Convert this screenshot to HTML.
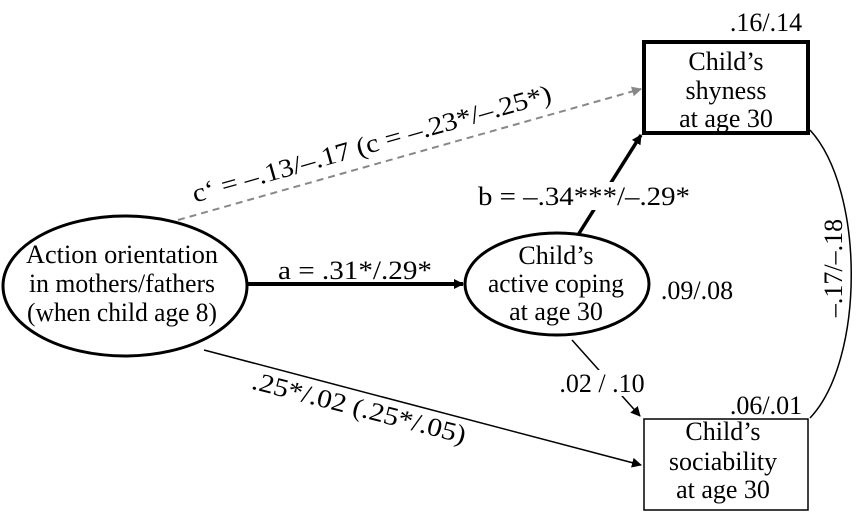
<!DOCTYPE html>
<html><head><style>
body{margin:0;background:#fff}
svg text{font-family:"Liberation Serif",serif;font-size:26px;fill:#000}
</style></head><body>
<svg width="858" height="518" viewBox="0 0 858 518">
<defs>
<marker id="ah" markerWidth="10" markerHeight="10" refX="9" refY="5" orient="auto" markerUnits="userSpaceOnUse"><path d="M0,0 L10,5 L0,10 z" fill="#000"/></marker>
<marker id="ag" markerWidth="10" markerHeight="10" refX="9" refY="5" orient="auto" markerUnits="userSpaceOnUse"><path d="M0,0 L10,5 L0,10 z" fill="#888"/></marker>
</defs>
<line x1="178" y1="220" x2="641" y2="89" stroke="#888" stroke-width="2" stroke-dasharray="7,5" marker-end="url(#ag)"/>
<line x1="247" y1="284" x2="463" y2="284" stroke="#000" stroke-width="4" marker-end="url(#ah)"/>
<line x1="578" y1="235" x2="641" y2="135" stroke="#000" stroke-width="3.5" marker-end="url(#ah)"/>
<line x1="572" y1="340" x2="640" y2="416" stroke="#000" stroke-width="1.5" marker-end="url(#ah)"/>
<line x1="204" y1="350" x2="641" y2="465" stroke="#000" stroke-width="1.5" marker-end="url(#ah)"/>
<path d="M810,130 C865,190 865,360 810,418" fill="none" stroke="#000" stroke-width="1.5"/>
<ellipse cx="125" cy="286" rx="122" ry="70" fill="#fff" stroke="#000" stroke-width="3"/>
<ellipse cx="557" cy="284" rx="92" ry="51" fill="#fff" stroke="#000" stroke-width="3"/>
<rect x="644" y="42" width="164" height="91" fill="#fff" stroke="#000" stroke-width="4"/>
<rect x="644" y="419" width="164" height="91" fill="#fff" stroke="#000" stroke-width="1.5"/>
<g text-anchor="middle">
<text x="122" y="263" textLength="192" lengthAdjust="spacingAndGlyphs">Action orientation</text>
<text x="122" y="292" textLength="186" lengthAdjust="spacingAndGlyphs">in mothers/fathers</text>
<text x="122" y="321" textLength="190" lengthAdjust="spacingAndGlyphs">(when child age 8)</text>
<text x="556" y="264">Child’s</text>
<text x="556" y="292" textLength="136" lengthAdjust="spacingAndGlyphs">active coping</text>
<text x="556" y="320">at age 30</text>
<text x="726" y="70">Child’s</text>
<text x="726" y="99">shyness</text>
<text x="726" y="127">at age 30</text>
<text x="723" y="440">Child’s</text>
<text x="723" y="470">sociability</text>
<text x="723" y="498">at age 30</text>
<text x="766" y="31">.16/.14</text>
<text x="766" y="414">.06/.01</text>
<text x="697" y="299">.09/.08</text>
<text x="355" y="279" textLength="154" lengthAdjust="spacingAndGlyphs">a = .31*/.29*</text>
<rect x="475" y="182" width="218" height="28" fill="#fff"/>
<text x="584" y="205" textLength="212" lengthAdjust="spacingAndGlyphs">b = –.34***/–.29*</text>
<rect x="553" y="370" width="98" height="26" fill="#fff"/>
<text x="602" y="392">.02 / .10</text>
<text transform="translate(374,152) rotate(-15.8)" textLength="372" lengthAdjust="spacingAndGlyphs">c‘ = –.13/–.17 (c = –.23*/–.25*)</text>
<text transform="translate(357,416) rotate(14.5)" textLength="220" lengthAdjust="spacingAndGlyphs">.25*/.02 (.25*/.05)</text>
<text transform="translate(842,268) rotate(-90)">–.17/–.18</text>
</g>
</svg>
</body></html>
